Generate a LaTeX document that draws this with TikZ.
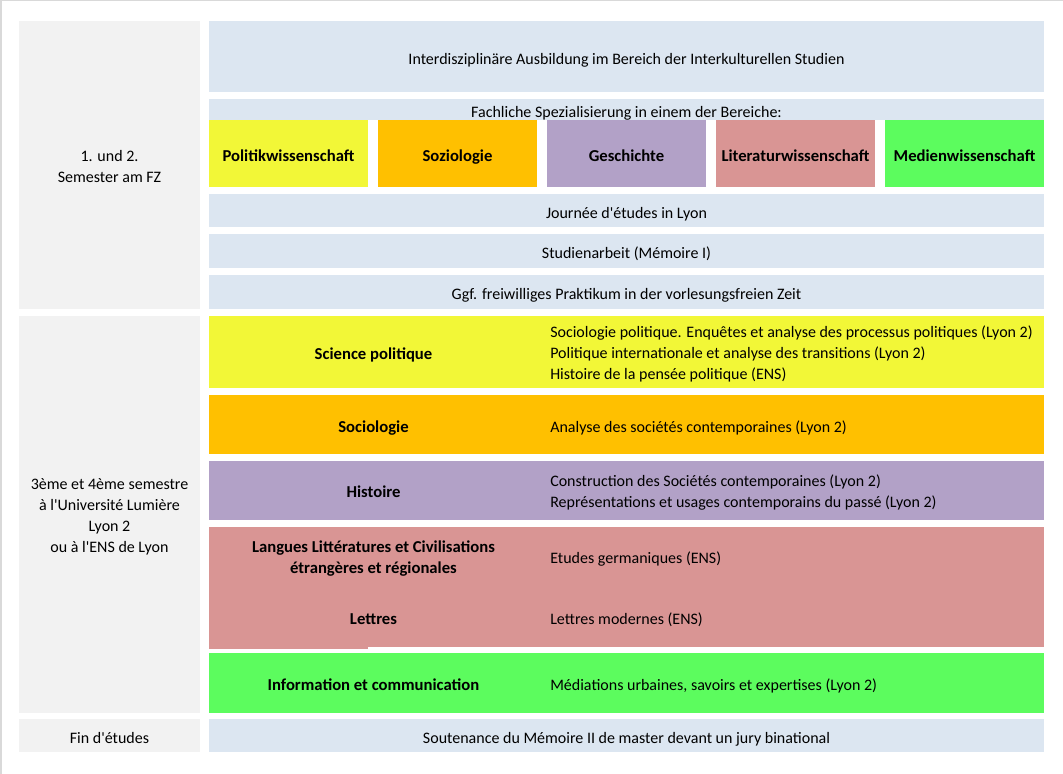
\documentclass[tikz,border=0pt]{standalone}
\usepackage{fontspec}
\setmainfont{Carlito}[Ligatures=TeXOff]
\usetikzlibrary{fit}
\definecolor{cblue}{HTML}{DCE6F1}
\definecolor{cgrey}{HTML}{F2F2F2}
\definecolor{cyellow}{HTML}{F2F737}
\definecolor{corange}{HTML}{FFC000}
\definecolor{cpurple}{HTML}{B2A1C7}
\definecolor{cpink}{HTML}{D99594}
\definecolor{cgreen}{HTML}{5CFC5E}
\definecolor{cframe}{HTML}{D9D9D9}
\begin{document}
\begin{tikzpicture}[x=0.75pt,y=-0.75pt,
  every node/.style={font=\fontsize{12}{15.75}\selectfont, text=black},
  cell/.style={inner sep=0pt, outer sep=0pt, align=center},
  lbl/.style={inner sep=0pt, align=center},
  bold/.style={inner sep=0pt, align=center, font=\fontsize{12.5}{15.75}\selectfont\bfseries},
  desc/.style={inner sep=0pt, align=left, anchor=west},
  one/.style={text height=9pt, text depth=3pt, yshift=-1.2pt}]
\useasboundingbox (0,0) rectangle (1063,774);
\fill[white] (0,0) rectangle (1063,774);
\draw[cframe, line width=1.5] (0.5,774) -- (0.5,0.5) -- (1063,0.5);
% left column
\node[cell, fill=cgrey, fit={(19,21) (200,309)}] (l1) {};
\node[lbl] (l1t) at (109.5,167) {1. und 2.\\Semester am FZ};
\node[cell, fill=cgrey, fit={(19,316) (200,713)}] (l2) {};
\node[lbl] (l2t) at (109.5,516.5) {3ème et 4ème semestre\\à l'Université Lumière\\Lyon 2\\ou à l'ENS de Lyon};
\node[cell, fill=cgrey, fit={(19,719) (200,752)}] (l3) {};
\node[lbl, one] (l3t) at (109.5,737.5) {Fin d'études};
% first block right
\node[cell, fill=cblue, fit={(209,21) (1044,92)}] (top) {};
\node[lbl, one] (topt) at (626.5,58.5) {Interdisziplinäre Ausbildung im Bereich der Interkulturellen Studien};
\node[cell, fill=cblue, fit={(209,99) (1044,120)}] (fach) {};
\node[lbl, one] (facht) at (626.5,111.5) {Fachliche Spezialisierung in einem der Bereiche:};
\node[cell, fill=cyellow, fit={(209,120) (368,187)}] (f1) {};
\node[bold, one] at (288.5,155.5) {Politikwissenschaft};
\node[cell, fill=corange, fit={(378,120) (537,187)}] (f2) {};
\node[bold, one] at (457.5,155.5) {Soziologie};
\node[cell, fill=cpurple, fit={(547,120) (706,187)}] (f3) {};
\node[bold, one] at (626.5,155.5) {Geschichte};
\node[cell, fill=cpink, fit={(716,120) (875,187)}] (f4) {};
\node[bold, one] at (795.5,155.5) {Literaturwissenschaft};
\node[cell, fill=cgreen, fit={(885,120) (1044,187)}] (f5) {};
\node[bold, one] at (964.5,155.5) {Medienwissenschaft};
\node[cell, fill=cblue, fit={(209,194) (1044,227)}] (jour) {};
\node[lbl, one] at (626.5,212.5) {Journée d'études in Lyon};
\node[cell, fill=cblue, fit={(209,234) (1044,268)}] (stud) {};
\node[lbl, one] at (626.5,252.5) {Studienarbeit (Mémoire I)};
\node[cell, fill=cblue, fit={(209,275) (1044,309)}] (prak) {};
\node[lbl, one] at (626.5,293.5) {Ggf. freiwilliges Praktikum in der vorlesungsfreien Zeit};
% second block right
\node[cell, fill=cyellow, fit={(209,316) (1044,388)}] (sp) {};
\node[bold, one] (spl) at (373.5,353.5) {Science politique};
\node[desc] (spr) at (550,354) {Sociologie politique. Enquêtes et analyse des processus politiques (Lyon 2)\\Politique internationale et analyse des transitions (Lyon 2)\\Histoire de la pensée politique (ENS)};
\node[cell, fill=corange, fit={(209,395) (1044,454)}] (so) {};
\node[bold, one] (sol) at (373.5,426.5) {Sociologie};
\node[desc, one] (sor) at (550,426.5) {Analyse des sociétés contemporaines (Lyon 2)};
\node[cell, fill=cpurple, fit={(209,461) (1044,520)}] (hi) {};
\node[bold, one] (hil) at (373.5,492) {Histoire};
\node[desc] (hir) at (550,492.5) {Construction des Sociétés contemporaines (Lyon 2)\\Représentations et usages contemporains du passé (Lyon 2)};
\node[cell, fill=cpink, fit={(209,527) (1044,647)}] (la) {};
\fill[cpink] (209,646) rectangle (368,648.5);
\node[bold] (lal) at (373.5,558.5) {Langues Littératures et Civilisations\\étrangères et régionales};
\node[desc, one] (lar) at (550,557.5) {Etudes germaniques (ENS)};
\node[bold, one] (lel) at (373.5,618.5) {Lettres};
\node[desc, one] (ler) at (550,618.5) {Lettres modernes (ENS)};
\node[cell, fill=cgreen, fit={(209,653) (1044,713)}] (ic) {};
\node[bold, one] (icl) at (373.5,684.5) {Information et communication};
\node[desc, one] (icr) at (550,684.5) {Médiations urbaines, savoirs et expertises (Lyon 2)};
% last row
\node[cell, fill=cblue, fit={(209,719) (1044,752)}] (sout) {};
\node[lbl, one] at (626.5,737.5) {Soutenance du Mémoire II de master devant un jury binational};
\end{tikzpicture}
\end{document}
